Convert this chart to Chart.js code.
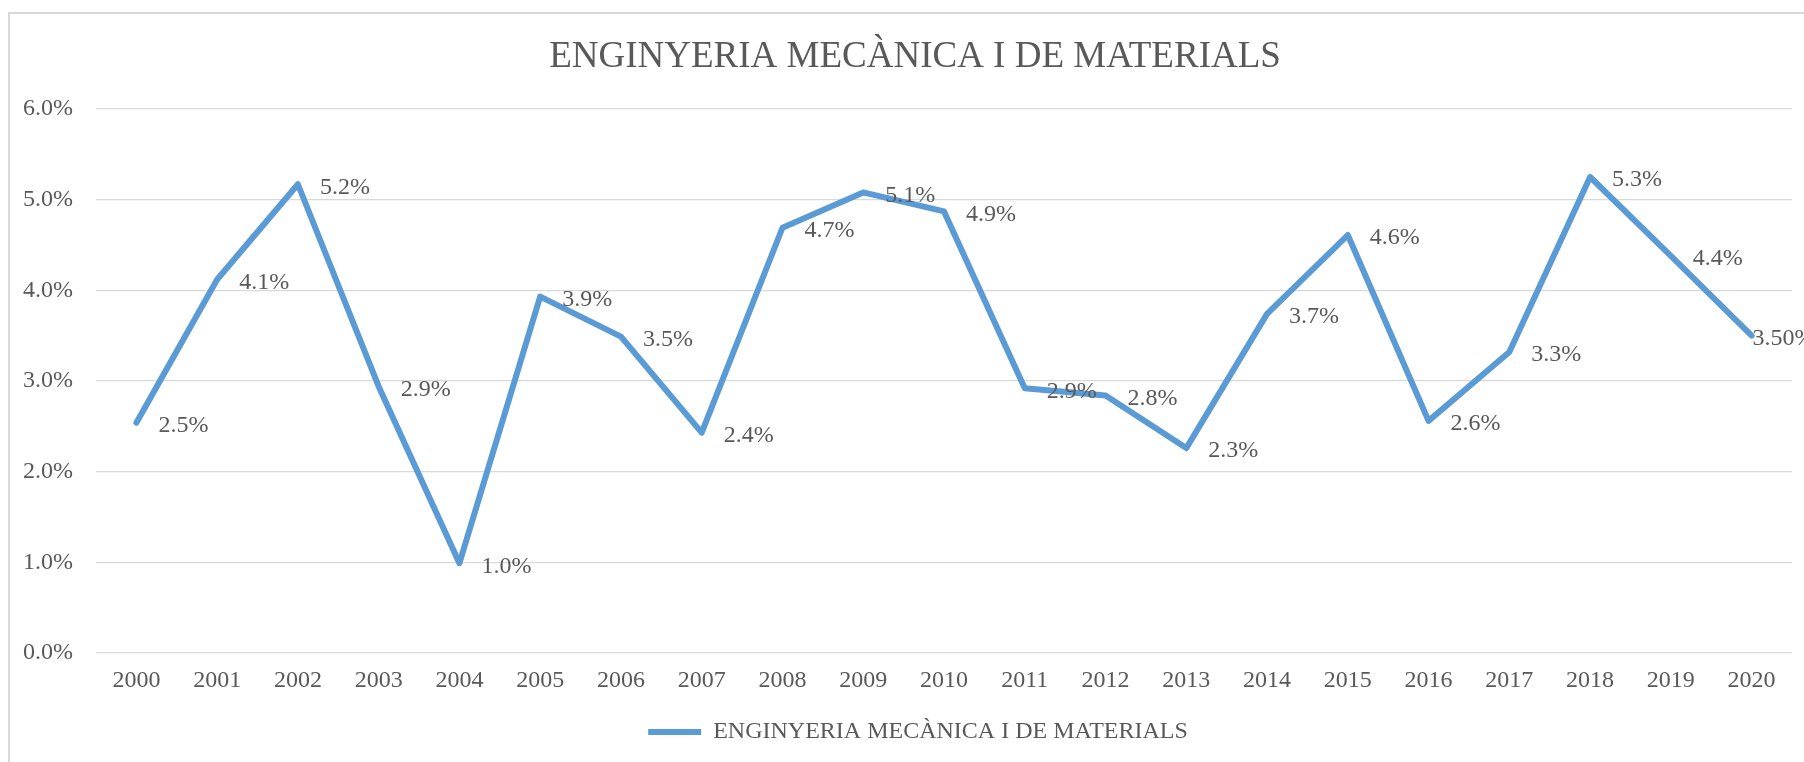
<!DOCTYPE html>
<html>
<head>
<meta charset="utf-8">
<title>Enginyeria Mecànica i de Materials</title>
<script src="https://cdn.jsdelivr.net/npm/chart.js@4.4.0/dist/chart.umd.min.js"></script>
<style>
  html, body { margin: 0; padding: 0; background: #fff; overflow: hidden; }
  canvas { display: block; }
</style>
</head>
<body>
<canvas id="myChart" width="1804" height="762"></canvas>
<script>
const years = ["2000", "2001", "2002", "2003", "2004", "2005", "2006", "2007", "2008", "2009", "2010",
  "2011", "2012", "2013", "2014", "2015", "2016", "2017", "2018", "2019", "2020"];
const rates = [2.54, 4.12, 5.17, 2.94, 0.99, 3.93, 3.49, 2.43, 4.69, 5.08, 4.87,
  2.92, 2.84, 2.26, 3.74, 4.61, 2.56, 3.32, 5.25, 4.38, 3.50];
const rateLabels = ["2.5%", "4.1%", "5.2%", "2.9%", "1.0%", "3.9%", "3.5%", "2.4%", "4.7%", "5.1%", "4.9%",
  "2.9%", "2.8%", "2.3%", "3.7%", "4.6%", "2.6%", "3.3%", "5.3%", "4.4%", "3.50%"];
const seriesName = "ENGINYERIA MECÀNICA I DE MATERIALS";

const textColor = "#595959";
const lineColor = "#5B9BD5";
const font = "Liberation Serif";

// light frame around the chart, like the office chart box
// (the original chart box runs a bit past the right edge of the picture)
const frame = {
  id: "frame",
  afterLayout(chart) {
    // centre title and legend on the whole chart box, not just the canvas
    chart.titleBlock.right = 1830;
    chart.legend.right = 1836;
  },
  beforeDraw(chart) {
    const c = chart.ctx;
    c.save();
    c.fillStyle = "#fff";
    c.fillRect(0, 0, chart.width, chart.height);
    c.strokeStyle = "#D9D9D9";
    c.lineWidth = 2;
    c.strokeRect(9, 13, chart.width + 40, chart.height + 40);
    c.restore();
  }
};

// value labels to the right of each point
const pointLabels = {
  id: "pointLabels",
  afterDatasetsDraw(chart) {
    const c = chart.ctx;
    const meta = chart.getDatasetMeta(0);
    c.save();
    c.font = "24px '" + font + "'";
    c.fillStyle = textColor;
    c.textAlign = "left";
    c.textBaseline = "middle";
    meta.data.forEach((pt, i) => {
      const dx = i === meta.data.length - 1 ? 1 : 22;
      c.fillText(rateLabels[i], pt.x + dx, pt.y + 3);
    });
    c.restore();
  }
};

const ctx = document.getElementById("myChart");
new Chart(ctx, {
  type: "line",
  data: {
    labels: years,
    datasets: [
      {
        label: seriesName,
        data: rates,
        borderColor: lineColor,
        backgroundColor: lineColor,
        borderWidth: 6,
        borderJoinStyle: "round",
        borderCapStyle: "round",
        tension: 0,
        pointRadius: 0,
        pointHoverRadius: 0,
        pointBorderWidth: 6,
        pointStyle: "line",
      },
    ],
  },
  options: {
    responsive: false,
    animation: false,
    layout: { padding: { left: 0, right: 12, top: 0, bottom: 8 } },
    plugins: {
      tooltip: { enabled: false },
      title: {
        display: true,
        text: seriesName,
        color: textColor,
        font: { family: font, size: 37, weight: "normal" },
        padding: { top: 35, bottom: 29.6 },
      },
      legend: {
        position: "bottom",
        labels: {
          color: textColor,
          font: { family: font, size: 24 },
          usePointStyle: true,
          pointStyle: "line",
          pointStyleWidth: 53,
          padding: 10,
        },
      },
    },
    scales: {
      x: {
        offset: true,
        grid: { display: false, drawTicks: false },
        border: { display: false },
        ticks: {
          color: textColor,
          font: { family: font, size: 24 },
          padding: 13,
          maxRotation: 0,
          autoSkip: false,
        },
        afterFit(scale) { scale.height = 57; },
      },
      y: {
        min: 0,
        max: 6,
        grid: { color: "#D9D9D9", lineWidth: 1.3, drawTicks: false },
        border: { display: false },
        ticks: {
          stepSize: 1,
          color: textColor,
          font: { family: font, size: 24 },
          padding: 23,
          callback: (v) => v.toFixed(1) + "%",
        },
        afterFit(scale) { scale.width = 96; },
      },
    },
  },
  plugins: [frame, pointLabels],
});
</script>
</body>
</html>
